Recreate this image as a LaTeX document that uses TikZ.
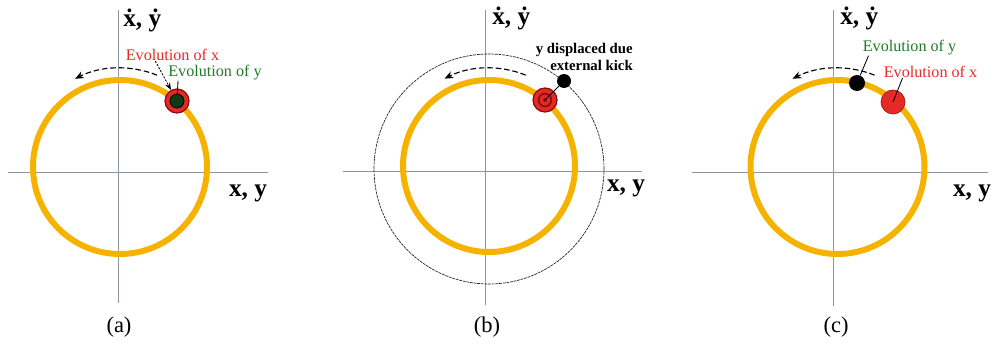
\documentclass[tikz,border=0pt]{standalone}
\usepackage{fontspec}
\setmainfont{Liberation Serif}
\usetikzlibrary{arrows.meta,positioning}
\definecolor{orbitGold}{HTML}{F5B300}
\definecolor{axisGray}{HTML}{8A97A6}
\definecolor{evoRed}{HTML}{E52A25}
\definecolor{darkRed}{HTML}{8C0D0D}
\definecolor{evoGreen}{HTML}{1E7A24}
\definecolor{dotGreen}{HTML}{0F3A17}

\begin{document}
\begin{tikzpicture}[x=0.025cm, y=0.025cm,
  axis/.style={draw=axisGray, line width=0.5pt},
  orbit/.style={draw=orbitGold, line width=1.5mm},
  kick/.style={draw=black!85, line width=0.5pt, dash pattern=on 2pt off 0.6pt},
  turn/.style={draw=black, line width=0.8pt, dash pattern=on 4pt off 2pt, -{Stealth[length=2.2mm, width=1.8mm]}},
  axlabel/.style={font=\fontsize{18}{20}\selectfont\bfseries, inner sep=0pt},
  caption/.style={font=\fontsize{16}{18}\selectfont, inner sep=0pt},
  evo/.style={font=\fontsize{11.5}{12.5}\selectfont, inner sep=0pt},
  xdot/.style={circle, fill=evoRed, draw=darkRed, line width=0.9pt, minimum size=0.6cm, inner sep=0pt},
  ydot/.style={circle, fill=black, minimum size=0.35cm, inner sep=0pt},
  pointer/.style={draw=black, line width=0.6pt}
]
\useasboundingbox (0,0) rectangle (996,344);

% (a) x and y still in phase
\begin{scope}[shift={(118,172)}]
  \draw[axis] (-110,0) -- (150,0);
  \draw[axis] (0,-131) -- (0,162);
  \draw[orbit] (2,5) circle[radius=87];
  \node[axlabel, anchor=west] (a-vel) at (5,152) {\.x, \.y};
  \node[axlabel] (a-pos) at (130,-21) {x, y};
  \draw[turn] (2,5) ++(68:99) arc[start angle=68, end angle=117, radius=99];
  \node[xdot] (a-x) at (59,71) {};
  \node[circle, fill=dotGreen, draw=black, line width=0.6pt, minimum size=0.35cm, inner sep=0pt] (a-y) at (a-x) {};
  \node[evo, text=evoRed] (a-xlab) at (54.5,117) {Evolution of x};
  \node[evo, text=evoGreen] (a-ylab) at (97,99) {Evolution of y};
  \draw[pointer, dash pattern=on 1.5pt off 1pt, -{Stealth[length=1.8mm]}] ([xshift=-4.3mm]a-xlab.south) -- (a-x);
  \draw[pointer] ([xshift=2.5mm]a-ylab.south west) -- (a-y);
  \node[caption] (a-cap) at (1,-155) {(a)};
\end{scope}

% (b) y kicked onto a larger orbit
\begin{scope}[shift={(485,173)}]
  \draw[axis] (-142,0) -- (157,0);
  \draw[axis] (0,-134) -- (0,161);
  \draw[kick] (4,2) circle[radius=115];
  \draw[orbit] (4,5) circle[radius=86];
  \node[axlabel, anchor=west] (b-vel) at (7,153) {\.x, \.y};
  \node[axlabel] (b-pos) at (141,-17) {x, y};
  \draw[turn] (4,5) ++(68:98) arc[start angle=68, end angle=117, radius=98];
  \node[xdot] (b-x) at (60,71) {};
  \node[circle, draw=darkRed, line width=1.2pt, minimum size=0.32cm, inner sep=0pt] (b-ring) at (b-x) {};
  \node[circle, fill=darkRed, minimum size=0.1cm, inner sep=0pt] (b-core) at (b-x) {};
  \node[ydot] (b-y) at (79,90) {};
  \draw[pointer] (b-x.center) -- (b-y);
  \node[evo, font=\fontsize{10.5}{11.5}\selectfont\bfseries, align=right, anchor=east] (b-lab) at (148,114) {y displaced due\\external kick};
  \node[caption] (b-cap) at (2,-156) {(b)};
\end{scope}

% (c) y back on the orbit, out of phase with x
\begin{scope}[shift={(833,172)}]
  \draw[axis] (-141,0) -- (155,0);
  \draw[axis] (0,-134) -- (0,162);
  \draw[orbit] (4.5,5) circle[radius=87];
  \node[axlabel, anchor=west] (c-vel) at (7,154) {\.x, \.y};
  \node[axlabel] (c-pos) at (139,-21) {x, y};
  \draw[turn] (4.5,5) ++(68:99) arc[start angle=68, end angle=117, radius=99];
  \node[xdot, draw=evoRed!70!black, line width=0.5pt] (c-x) at (60,70) {};
  \node[ydot, minimum size=0.4cm] (c-y) at (24,89) {};
  \node[evo, text=evoGreen] (c-ylab) at (76.5,124) {Evolution of y};
  \node[evo, text=evoRed] (c-xlab) at (97.5,100) {Evolution of x};
  \draw[pointer] ([xshift=1.5mm]c-ylab.south west) -- (c-y);
  \draw[pointer] ([xshift=4.75mm]c-xlab.south west) -- (c-x.center);
  \node[caption] (c-cap) at (3,-155) {(c)};
\end{scope}
\end{tikzpicture}
\end{document}
